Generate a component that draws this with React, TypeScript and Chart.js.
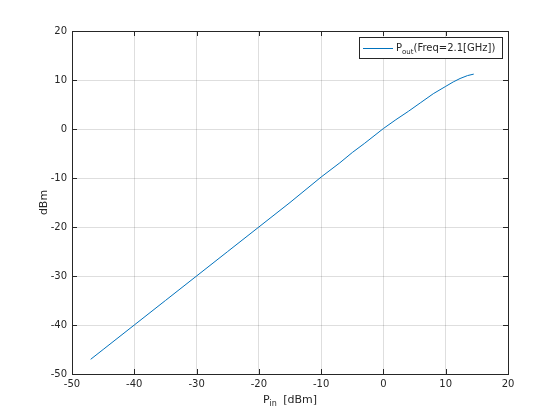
import React, { useEffect, useRef } from "react";
import { Chart, registerables } from "chart.js";

Chart.register(...registerables);

const pinValues = [-47, -45, -40, -35, -30, -25, -20, -15, -10, -7, -5, -3, 0, 2, 4, 6, 8, 10, 11.2, 12.3, 13.5, 14.5];
const poutValues = [-47, -45, -40, -35, -30, -25, -20, -15, -9.8, -6.9, -4.8, -2.9, 0.1, 1.9, 3.6, 5.4, 7.2, 8.7, 9.6, 10.3, 10.9, 11.2];
const xTicks = [-50, -40, -30, -20, -10, 0, 10, 20];
const yTicks = [-50, -40, -30, -20, -10, 0, 10, 20];
const seriesLabel = "P";
const seriesSub = "out";
const seriesRest = "(Freq=2.1[GHz])";
const xTitleMain = "P";
const xTitleSub = "in";
const xTitleRest = " [dBm]";
const yTitle = "dBm";

const FONT = '"DejaVu Sans", sans-serif';
const AXIS = "#262626";
const LINE = "#0072BD";

const decorPlugin = {
  id: "decor",
  afterDraw(chart: any) {
    const { ctx, chartArea } = chart;
    const { left, right, top, bottom } = chartArea;
    const xs = chart.scales.x;
    const ys = chart.scales.y;
    ctx.save();
    ctx.strokeStyle = AXIS;
    ctx.lineWidth = 1;
    ctx.beginPath();
    ctx.moveTo(Math.round(left) + 0.5, Math.round(top) + 0.5);
    ctx.lineTo(Math.round(right) + 0.5, Math.round(top) + 0.5);
    ctx.lineTo(Math.round(right) + 0.5, Math.round(bottom) + 0.5);
    ctx.lineTo(Math.round(left) + 0.5, Math.round(bottom) + 0.5);
    ctx.closePath();
    ctx.stroke();
    const tl = 5;
    ctx.beginPath();
    xTicks.forEach((v) => {
      const px = Math.round(xs.getPixelForValue(v)) + 0.5;
      ctx.moveTo(px, bottom);
      ctx.lineTo(px, bottom - tl);
      ctx.moveTo(px, top);
      ctx.lineTo(px, top + tl);
    });
    yTicks.forEach((v) => {
      const py = Math.round(ys.getPixelForValue(v)) + 0.5;
      ctx.moveTo(left, py);
      ctx.lineTo(left + tl, py);
      ctx.moveTo(right, py);
      ctx.lineTo(right - tl, py);
    });
    ctx.stroke();

    ctx.fillStyle = AXIS;
    ctx.textBaseline = "alphabetic";
    ctx.textAlign = "left";
    const mainFont = `11px ${FONT}`;
    const subFont = `8px ${FONT}`;
    ctx.font = mainFont;
    const w1 = ctx.measureText(xTitleMain).width;
    const w3 = ctx.measureText(xTitleRest).width;
    ctx.font = subFont;
    const w2 = ctx.measureText(xTitleSub).width;
    const gap = 3;
    const total = w1 + w2 + gap + w3;
    const x0 = (left + right) / 2 - total / 2;
    const by = 403;
    ctx.font = mainFont;
    ctx.fillText(xTitleMain, x0, by);
    ctx.font = subFont;
    ctx.fillText(xTitleSub, x0 + w1, by + 3);
    ctx.font = mainFont;
    ctx.fillText(xTitleRest, x0 + w1 + w2 + gap, by);

    ctx.save();
    ctx.translate(47, (top + bottom) / 2);
    ctx.rotate(-Math.PI / 2);
    ctx.textAlign = "center";
    ctx.font = mainFont;
    ctx.fillText(yTitle, 0, 0);
    ctx.restore();

    const lx = 359.5, ly = 37.5, lw = 143, lh = 21;
    ctx.fillStyle = "#ffffff";
    ctx.fillRect(lx, ly, lw, lh);
    ctx.strokeStyle = AXIS;
    ctx.strokeRect(lx, ly, lw, lh);
    ctx.strokeStyle = LINE;
    ctx.beginPath();
    ctx.moveTo(363, 48.5);
    ctx.lineTo(393, 48.5);
    ctx.stroke();
    ctx.fillStyle = AXIS;
    const lf = `10px ${FONT}`;
    const lsf = `7px ${FONT}`;
    let tx = 396;
    const ty = 51;
    ctx.font = lf;
    ctx.fillText(seriesLabel, tx, ty);
    tx += ctx.measureText(seriesLabel).width;
    ctx.font = lsf;
    ctx.fillText(seriesSub, tx, ty + 3);
    tx += ctx.measureText(seriesSub).width;
    ctx.font = lf;
    ctx.fillText(seriesRest, tx, ty);
    ctx.restore();
  },
};

export default function App() {
  const ref = useRef<HTMLCanvasElement>(null);
  useEffect(() => {
    document.body.style.margin = "0";
    const canvas = ref.current!;
    const chart = new Chart(canvas, {
      type: "scatter",
      data: {
        datasets: [
          {
            label: "Pout",
            data: pinValues.map((x, i) => ({ x, y: poutValues[i] })),
            showLine: true,
            borderColor: LINE,
            backgroundColor: LINE,
            borderWidth: 1,
            pointRadius: 0,
            tension: 0,
          },
        ],
      },
      options: {
        animation: false,
        responsive: false,
        devicePixelRatio: 1,
        layout: { padding: { top: 31, right: 52, left: 0, bottom: 0 } },
        plugins: { legend: { display: false }, tooltip: { enabled: false } },
        scales: {
          x: {
            type: "linear",
            min: -50,
            max: 20,
            afterBuildTicks: (s: any) => {
              s.ticks = xTicks.map((v) => ({ value: v }));
            },
            afterFit: (s: any) => {
              s.height = 46;
            },
            ticks: { font: { size: 10, family: FONT }, color: AXIS, padding: 4, maxRotation: 0 },
            grid: { color: "rgba(0,0,0,0.13)", drawTicks: false },
            border: { display: true, color: AXIS },
          },
          y: {
            type: "linear",
            min: -50,
            max: 20,
            afterBuildTicks: (s: any) => {
              s.ticks = yTicks.map((v) => ({ value: v }));
            },
            afterFit: (s: any) => {
              s.width = 72;
            },
            ticks: { font: { size: 10, family: FONT }, color: AXIS, padding: 5 },
            grid: { color: "rgba(0,0,0,0.13)", drawTicks: false },
            border: { display: true, color: AXIS },
          },
        },
      },
      plugins: [decorPlugin],
    });
    return () => chart.destroy();
  }, []);
  return (
    <div style={{ position: "fixed", left: 0, top: 0, width: 560, height: 420, background: "#fff" }}>
      <canvas ref={ref} width={560} height={420} style={{ width: 560, height: 420 }} />
    </div>
  );
}
